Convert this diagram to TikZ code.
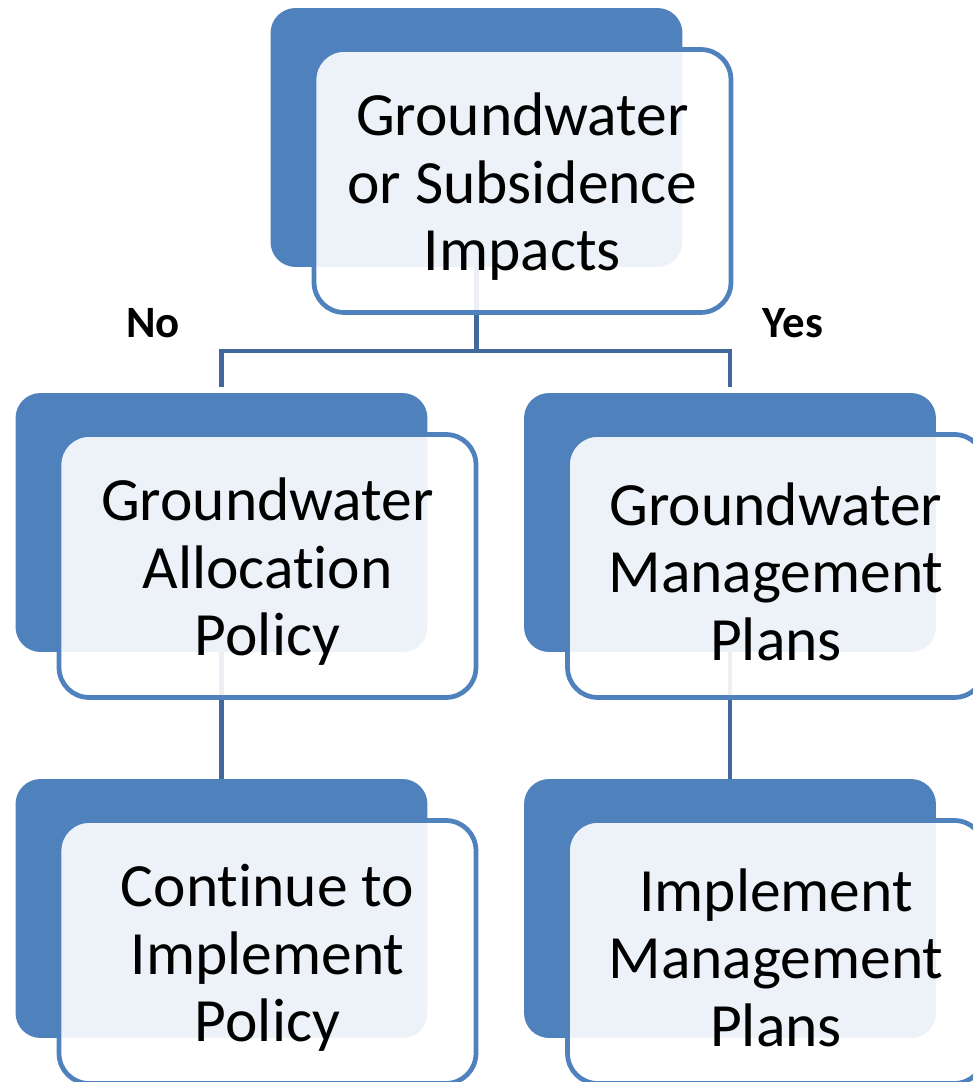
\documentclass[tikz,border=0pt]{standalone}
\usepackage{fontspec}
\setmainfont{Carlito}[Ligatures=NoCommon]
\definecolor{boxblue}{HTML}{4F81BD}
\definecolor{linkblue}{HTML}{41699C}
\tikzset{
  backbox/.style={fill=boxblue,rounded corners=0.5cm,minimum width=8.24cm,minimum height=5.18cm,inner sep=0pt},
  frontbox/.style={draw=boxblue,line width=0.095cm,fill=white,fill opacity=0.9,text opacity=1,
    rounded corners=0.6cm,minimum width=8.34cm,minimum height=5.26cm,inner sep=0pt,align=center,
    font=\fontsize{35}{38.4}\selectfont,xshift=0.92cm,yshift=-0.87cm},
  link/.style={draw=linkblue,line width=0.09cm},
  answer/.style={font=\fontsize{25.5}{30}\selectfont\bfseries}
}
\begin{document}
\begin{tikzpicture}[line cap=butt,line join=miter,x=0.02cm,y=-0.02cm]
\useasboundingbox (0,0) rectangle (973,1082);
% back boxes
\node[backbox] (b1) at (476.5,137.5) {};
\node[backbox] (b2) at (221.5,522.5) {};
\node[backbox] (b3) at (730,522.5) {};
\node[backbox] (b4) at (221.5,908.5) {};
\node[backbox] (b5) at (730,908.5) {};
% connectors
\coordinate (split) at (476.5,351);
\draw[link] (b1.south) -- (split);
\draw[link] (b2.north) ++(0,-6) |- (split) -| ([yshift=0.12cm]b3.north);
\draw[link] (b2.south) -- (b4.north);
\draw[link] (b3.south) -- (b5.north);
% front boxes
\node[frontbox] (f1) at (b1) {\rule{0pt}{0.88em}Groundwater\\or Subsidence\\Impacts};
\node[frontbox] (f2) at (b2) {\rule{0pt}{0.88em}Groundwater\\Allocation\\Policy};
\node[frontbox] (f3) at (b3) {\rule{0pt}{0.88em}Groundwater\\Management\\Plans};
\node[frontbox] (f4) at (b4) {\rule{0pt}{0.88em}Continue to\\Implement\\Policy};
\node[frontbox] (f5) at (b5) {\rule{0pt}{0.88em}Implement\\Management\\Plans};
% labels
\node[answer] (no) at (153,323) {No};
\node[answer] (yes) at (793,323) {Yes};
\end{tikzpicture}
\end{document}
